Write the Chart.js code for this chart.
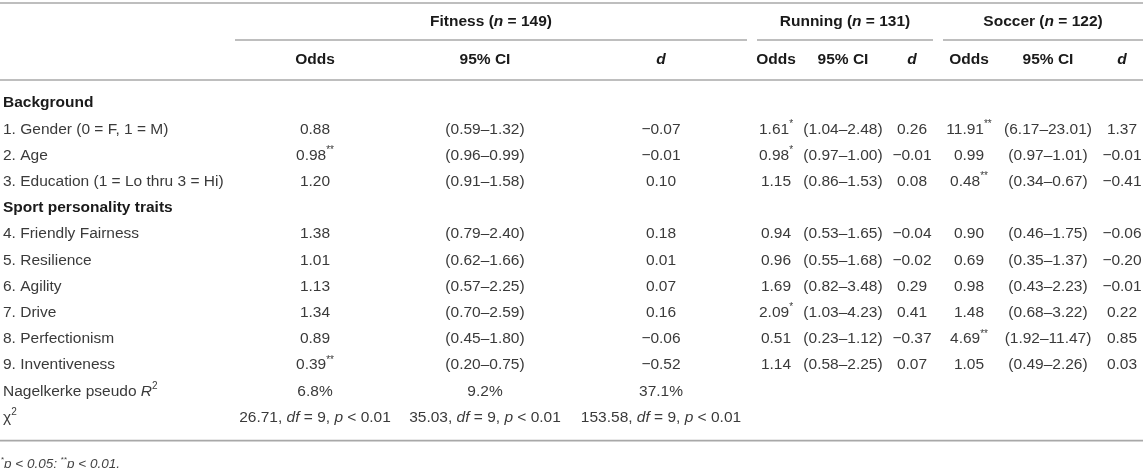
<!DOCTYPE html>
<html>
<head>
<meta charset="utf-8">
<script src="https://cdn.jsdelivr.net/npm/chart.js@4.4.0/dist/chart.umd.min.js"></script>
<style>
  html, body { margin: 0; padding: 0; background: #fff; }
  #wrap { width: 1143px; height: 468px; }
</style>
</head>
<body>
<div id="wrap"><canvas id="tableCanvas"></canvas></div>
<script>
// ---- table content ----
const sections = ['Background', 'Sport personality traits'];
const predictors = [
  '1. Gender (0 = F, 1 = M)', '2. Age', '3. Education (1 = Lo thru 3 = Hi)',
  '4. Friendly Fairness', '5. Resilience', '6. Agility', '7. Drive',
  '8. Perfectionism', '9. Inventiveness'
];
const groups = ['Fitness', 'Running', 'Soccer'];
const groupN = [149, 131, 122];
const subHeads = ['Odds', '95% CI', 'd'];

const fitnessOdds = [0.88, 0.98, 1.20, 1.38, 1.01, 1.13, 1.34, 0.89, 0.39];
const fitnessSig  = ['', '**', '', '', '', '', '', '', '**'];
const fitnessCI   = [[0.59, 1.32], [0.96, 0.99], [0.91, 1.58], [0.79, 2.40], [0.62, 1.66],
                     [0.57, 2.25], [0.70, 2.59], [0.45, 1.80], [0.20, 0.75]];
const fitnessD    = [-0.07, -0.01, 0.10, 0.18, 0.01, 0.07, 0.16, -0.06, -0.52];

const runningOdds = [1.61, 0.98, 1.15, 0.94, 0.96, 1.69, 2.09, 0.51, 1.14];
const runningSig  = ['*', '*', '', '', '', '', '*', '', ''];
const runningCI   = [[1.04, 2.48], [0.97, 1.00], [0.86, 1.53], [0.53, 1.65], [0.55, 1.68],
                     [0.82, 3.48], [1.03, 4.23], [0.23, 1.12], [0.58, 2.25]];
const runningD    = [0.26, -0.01, 0.08, -0.04, -0.02, 0.29, 0.41, -0.37, 0.07];

const soccerOdds  = [11.91, 0.99, 0.48, 0.90, 0.69, 0.98, 1.48, 4.69, 1.05];
const soccerSig   = ['**', '', '**', '', '', '', '', '**', ''];
const soccerCI    = [[6.17, 23.01], [0.97, 1.01], [0.34, 0.67], [0.46, 1.75], [0.35, 1.37],
                     [0.43, 2.23], [0.68, 3.22], [1.92, 11.47], [0.49, 2.26]];
const soccerD     = [1.37, -0.01, -0.41, -0.06, -0.20, -0.01, 0.22, 0.85, 0.03];

const pseudoR2   = [6.8, 9.2, 37.1];
const chiSquare  = [26.71, 35.03, 153.58];
const chiDf = 9;
const chiP = 0.01;

// ---- table layout (column widths / row heights, in table units) ----
const colWidths = [230, 170, 170, 182, 48, 86, 52, 62, 96, 52];
const tableWidth = 1143;
const tableHeight = 468;
const tableTop = 3;
const headRowHeights = [37, 40];
const bodyPad = 10;
const bodyRowHeight = 26.2;
const rulePad = 5;

const FONT = '"Liberation Sans", Arial, Helvetica, sans-serif';
const SIZE = 15.5;

const colStart = [0];
colWidths.forEach((w, i) => colStart.push(colStart[i] + w));
const colCenter = i => colStart[i] + colWidths[i] / 2;

const groupRowY = tableTop + headRowHeights[0] / 2;
const underlineY = tableTop + headRowHeights[0];
const subRowY = underlineY + headRowHeights[1] / 2;
const headBottomY = underlineY + headRowHeights[1];
const bodyTop = headBottomY + bodyPad;
const rowY = i => bodyTop + bodyRowHeight * (i + 0.5);

// ---- number formatting ----
const fmt = (v, n) => (v < 0 ? '\u2212' : '') + Math.abs(v).toFixed(n);
const ci = p => `(${fmt(p[0], 2)}\u2013${fmt(p[1], 2)})`;

// ---- build cells ----
const cells = [];
function cell(col, y, runs, align) {
  cells.push({ col, y, runs, align: align || 'center' });
}

groups.forEach((g, gi) => {
  const c0 = 1 + gi * 3;
  const mid = (colStart[c0] + colStart[c0 + 3]) / 2;
  cells.push({ xv: mid, y: groupRowY, align: 'center',
    runs: [{ t: g + ' (', b: true }, { t: 'n', b: true, i: true }, { t: ' = ' + groupN[gi] + ')', b: true }] });
  subHeads.forEach((s, si) => {
    cell(c0 + si, subRowY, [{ t: s, b: true, i: s === 'd' }]);
  });
});

const groupData = [
  [fitnessOdds, fitnessSig, fitnessCI, fitnessD],
  [runningOdds, runningSig, runningCI, runningD],
  [soccerOdds, soccerSig, soccerCI, soccerD]
];

let r = 0;
predictors.forEach((p, pi) => {
  if (pi === 0) cell(0, rowY(r++), [{ t: sections[0], b: true }], 'left');
  if (pi === 3) cell(0, rowY(r++), [{ t: sections[1], b: true }], 'left');
  const yv = rowY(r++);
  cell(0, yv, [{ t: p }], 'left');
  groupData.forEach((gd, gi) => {
    const c0 = 1 + gi * 3;
    const oddsRuns = [{ t: fmt(gd[0][pi], 2) }];
    if (gd[1][pi]) oddsRuns.push({ t: gd[1][pi], sup: true });
    cell(c0, yv, oddsRuns);
    cell(c0 + 1, yv, [{ t: ci(gd[2][pi]) }]);
    cell(c0 + 2, yv, [{ t: fmt(gd[3][pi], 2) }]);
  });
});

const r2Y = rowY(r++);
cell(0, r2Y, [{ t: 'Nagelkerke pseudo ' }, { t: 'R', i: true }, { t: '2', sup: true }], 'left');
pseudoR2.forEach((v, i) => cell(1 + i, r2Y, [{ t: v.toFixed(1) + '%' }]));

const chiY = rowY(r++);
cell(0, chiY, [{ t: '\u03C7' }, { t: '2', sup: true }], 'left');
chiSquare.forEach((v, i) => cell(1 + i, chiY, [
  { t: v.toFixed(2) + ', ' }, { t: 'df', i: true }, { t: ' = ' + chiDf + ', ' },
  { t: 'p', i: true }, { t: ' < ' + chiP.toFixed(2) }
]));

const bottomRuleY = bodyTop + bodyRowHeight * r + bodyPad;
const footY = bottomRuleY + 24;
cells.push({ xv: 1, y: footY, align: 'left', size: 13.5, color: '#444', runs: [
  { t: '*', sup: true }, { t: 'p < 0.05; ', i: true },
  { t: '**', sup: true }, { t: 'p < 0.01.', i: true }
] });

// ---- rules (horizontal lines) as line datasets ----
const hline = (x0, x1, y) => ({
  data: [{ x: x0, y }, { x: x1, y }],
  showLine: true, borderColor: '#a8a8a8', borderWidth: 1.6, pointRadius: 0, fill: false
});
const rules = [hline(0, tableWidth, tableTop)];
groups.forEach((g, gi) => {
  const c0 = 1 + gi * 3;
  rules.push(hline(colStart[c0] + rulePad, Math.min(colStart[c0 + 3] - rulePad, tableWidth), underlineY));
});
rules.push(hline(0, tableWidth, headBottomY));
rules.push(hline(0, tableWidth, bottomRuleY));

// ---- text drawing plugin ----
function runFont(run, size) {
  const s = run.sup ? Math.round(size * 0.62) : size;
  return `${run.i ? 'italic ' : ''}${run.b ? 'bold ' : ''}${s}px ${FONT}`;
}

const tableText = {
  id: 'tableText',
  afterDatasetsDraw(chart) {
    const { ctx, scales: { x, y } } = chart;
    ctx.save();
    ctx.textBaseline = 'middle';
    ctx.textAlign = 'left';
    cells.forEach(c => {
      const size = c.size || SIZE;
      const widths = c.runs.map(run => { ctx.font = runFont(run, size); return ctx.measureText(run.t).width; });
      const total = widths.reduce((a, b) => a + b, 0);
      let px;
      if (c.xv !== undefined) px = x.getPixelForValue(c.xv);
      else if (c.align === 'left') px = x.getPixelForValue(colStart[c.col] + 3);
      else px = x.getPixelForValue(colCenter(c.col));
      if (c.align !== 'left') px -= total / 2;
      const py = y.getPixelForValue(c.y);
      c.runs.forEach((run, k) => {
        ctx.font = runFont(run, size);
        ctx.fillStyle = c.color || (run.b ? '#1a1a1a' : '#3a3a3a');
        ctx.fillText(run.t, px, run.sup ? py - size * 0.32 : py);
        px += widths[k];
      });
    });
    ctx.restore();
  }
};

const chart = new Chart(document.getElementById('tableCanvas').getContext('2d'), {
  type: 'scatter',
  data: { datasets: rules },
  options: {
    responsive: true,
    maintainAspectRatio: false,
    animation: false,
    events: [],
    layout: { padding: 0 },
    scales: {
      x: { type: 'linear', min: 0, max: tableWidth, display: false },
      y: { type: 'linear', min: 0, max: tableHeight, reverse: true, display: false }
    },
    plugins: {
      legend: { display: false },
      tooltip: { enabled: false }
    }
  },
  plugins: [tableText]
});
</script>
</body>
</html>
